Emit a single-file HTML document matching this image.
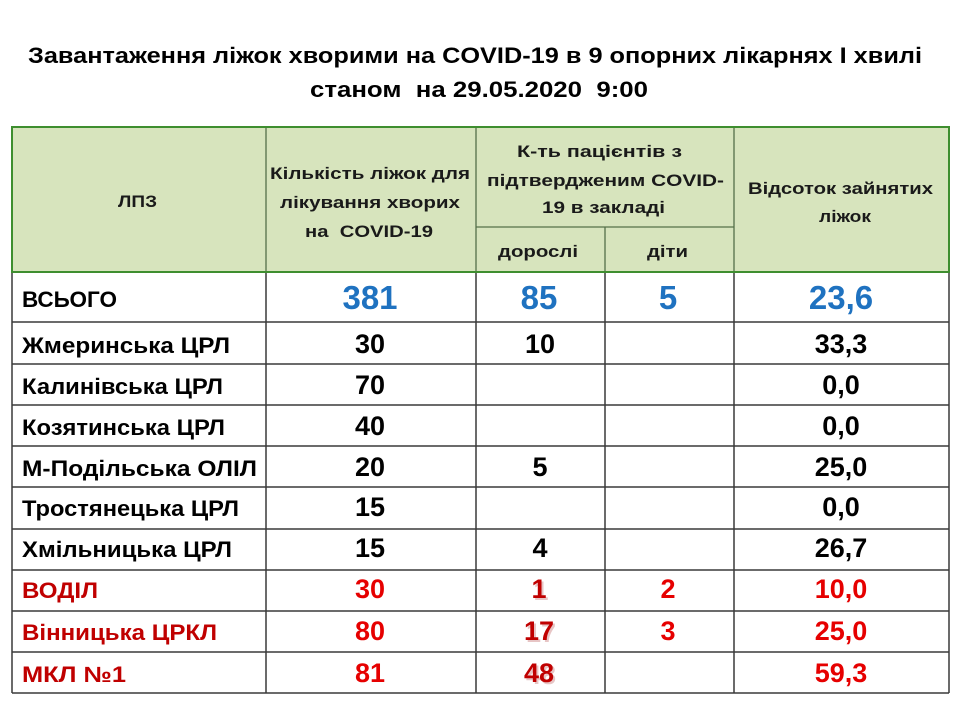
<!DOCTYPE html>
<html><head><meta charset="utf-8"><style>
html,body{margin:0;padding:0;background:#fff;}
svg{display:block;}
text{font-family:"Liberation Sans","Noto Sans CJK SC",sans-serif;font-weight:bold;white-space:pre;}
</style></head><body>
<svg width="960" height="720" viewBox="0 0 960 720" xmlns="http://www.w3.org/2000/svg">
<rect x="0" y="0" width="960" height="720" fill="#fff"/>
<!-- title -->
<text x="28" y="63" font-size="22" fill="#000" textLength="894" lengthAdjust="spacingAndGlyphs">Завантаження ліжок хворими на COVID-19 в 9 опорних лікарнях І хвилі</text>
<text x="310" y="97" font-size="22" fill="#000" textLength="338" lengthAdjust="spacingAndGlyphs">станом  на 29.05.2020  9:00</text>

<!-- header background -->
<rect x="12" y="127" width="937" height="145" fill="#d7e4bd"/>
<!-- header inner lines -->
<g stroke="#55704a" stroke-width="1.3">
<line x1="266" y1="127" x2="266" y2="272"/>
<line x1="476" y1="127" x2="476" y2="272"/>
<line x1="734" y1="127" x2="734" y2="272"/>
<line x1="476" y1="227" x2="734" y2="227"/>
<line x1="605" y1="227" x2="605" y2="272"/>
</g>

<!-- data grid -->
<g stroke="#3a3a3a" stroke-width="1.5">
<line x1="12" y1="272" x2="12" y2="693"/>
<line x1="266" y1="272" x2="266" y2="693"/>
<line x1="476" y1="272" x2="476" y2="693"/>
<line x1="605" y1="272" x2="605" y2="693"/>
<line x1="734" y1="272" x2="734" y2="693"/>
<line x1="949" y1="272" x2="949" y2="693"/>
<line x1="12" y1="322" x2="949" y2="322"/>
<line x1="12" y1="364" x2="949" y2="364"/>
<line x1="12" y1="405" x2="949" y2="405"/>
<line x1="12" y1="446" x2="949" y2="446"/>
<line x1="12" y1="487" x2="949" y2="487"/>
<line x1="12" y1="529" x2="949" y2="529"/>
<line x1="12" y1="570" x2="949" y2="570"/>
<line x1="12" y1="611" x2="949" y2="611"/>
<line x1="12" y1="652" x2="949" y2="652"/>
<line x1="12" y1="693" x2="949" y2="693"/>
</g>
<!-- header green border -->
<rect x="12" y="127" width="937" height="145" fill="none" stroke="#3e8e2f" stroke-width="2"/>

<!-- header text -->
<g font-size="17" fill="#1a1a1a">
<text x="118" y="207" textLength="39" lengthAdjust="spacingAndGlyphs">ЛПЗ</text>
<text x="270" y="179" textLength="200" lengthAdjust="spacingAndGlyphs">Кількість ліжок для</text>
<text x="280" y="208" textLength="180" lengthAdjust="spacingAndGlyphs">лікування хворих</text>
<text x="305" y="237" textLength="128" lengthAdjust="spacingAndGlyphs">на  COVID-19</text>
<text x="517" y="157" textLength="165" lengthAdjust="spacingAndGlyphs">К-ть пацієнтів з</text>
<text x="487" y="186" textLength="237" lengthAdjust="spacingAndGlyphs">підтвердженим COVID-</text>
<text x="542" y="213" textLength="123" lengthAdjust="spacingAndGlyphs">19 в закладі</text>
<text x="498" y="257" textLength="80" lengthAdjust="spacingAndGlyphs">дорослі</text>
<text x="647" y="257" textLength="41" lengthAdjust="spacingAndGlyphs">діти</text>
<text x="748" y="194" textLength="185" lengthAdjust="spacingAndGlyphs">Відсоток зайнятих</text>
<text x="819" y="222" textLength="52" lengthAdjust="spacingAndGlyphs">ліжок</text>
</g>

<!-- names -->
<g font-size="22" fill="#000">
<text x="22" y="307" textLength="95" lengthAdjust="spacingAndGlyphs">ВСЬОГО</text>
<text x="22" y="353" textLength="208" lengthAdjust="spacingAndGlyphs">Жмеринська ЦРЛ</text>
<text x="22" y="394" textLength="201" lengthAdjust="spacingAndGlyphs">Калинівська ЦРЛ</text>
<text x="22" y="435" textLength="203" lengthAdjust="spacingAndGlyphs">Козятинська ЦРЛ</text>
<text x="22" y="476" textLength="235" lengthAdjust="spacingAndGlyphs">М-Подільська ОЛІЛ</text>
<text x="22" y="516" textLength="217" lengthAdjust="spacingAndGlyphs">Тростянецька ЦРЛ</text>
<text x="22" y="557" textLength="210" lengthAdjust="spacingAndGlyphs">Хмільницька ЦРЛ</text>
</g>
<g font-size="22" fill="#c00000">
<text x="22" y="598" textLength="76" lengthAdjust="spacingAndGlyphs">ВОДІЛ</text>
<text x="22" y="640" textLength="195" lengthAdjust="spacingAndGlyphs">Вінницька ЦРКЛ</text>
<text x="22" y="682" textLength="104" lengthAdjust="spacingAndGlyphs">МКЛ №1</text>
</g>

<!-- totals row (blue) -->
<g font-size="33" fill="#1f72c0" text-anchor="middle">
<text x="370" y="309">381</text>
<text x="539" y="309">85</text>
<text x="668" y="309">5</text>
<text x="841" y="309">23,6</text>
</g>

<!-- black numbers -->
<g font-size="27" fill="#000" text-anchor="middle">
<text x="370" y="353">30</text><text x="540" y="353">10</text><text x="841" y="353">33,3</text>
<text x="370" y="394">70</text><text x="841" y="394">0,0</text>
<text x="370" y="435">40</text><text x="841" y="435">0,0</text>
<text x="370" y="476">20</text><text x="540" y="476">5</text><text x="841" y="476">25,0</text>
<text x="370" y="516">15</text><text x="841" y="516">0,0</text>
<text x="370" y="557">15</text><text x="540" y="557">4</text><text x="841" y="557">26,7</text>
</g>

<!-- red numbers -->
<g font-size="27" fill="#e60000" text-anchor="middle">
<text x="370" y="598">30</text><text x="668" y="598">2</text><text x="841" y="598">10,0</text>
<text x="370" y="640">80</text><text x="668" y="640">3</text><text x="841" y="640">25,0</text>
<text x="370" y="682">81</text><text x="841" y="682">59,3</text>
</g>
<!-- dark red shadowed numbers -->
<g font-size="27" text-anchor="middle">
<text x="541" y="600" fill="#d8a0a0" opacity="0.6">1</text>
<text x="541" y="642" fill="#d8a0a0" opacity="0.6">17</text>
<text x="541" y="684" fill="#d8a0a0" opacity="0.6">48</text>
<text x="539" y="598" fill="#c00000">1</text>
<text x="539" y="640" fill="#c00000">17</text>
<text x="539" y="682" fill="#c00000">48</text>
</g>
</svg>
</body></html>
